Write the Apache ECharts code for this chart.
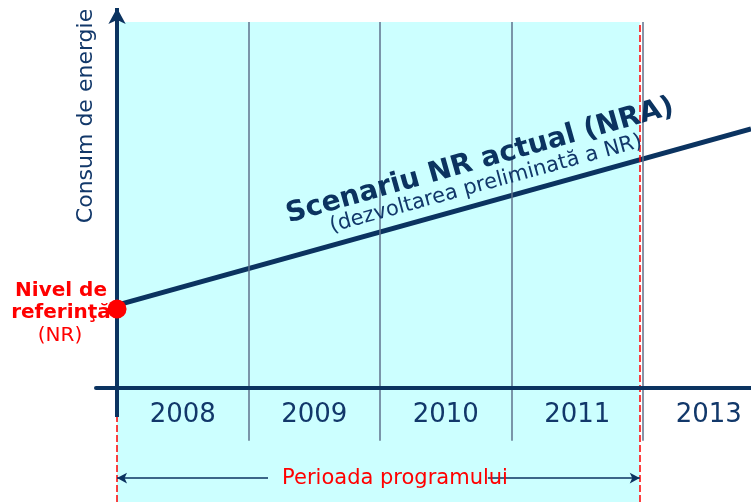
<!DOCTYPE html>
<html><head><meta charset="utf-8">
<script src="https://cdn.jsdelivr.net/npm/echarts@6/dist/echarts.min.js"></script>
<style>html,body{margin:0;padding:0;background:#fff}#c{width:751px;height:502px}</style>
</head><body><div id="c"></div>
<script>
// ---- data ----
const years = ['2008', '2009', '2010', '2011', '2013'];
const yearPos = [0.5, 1.5, 2.5, 3.5, 4.5];
const yearBoundaries = [1, 2, 3, 4];
const nraX = [0, 4.821];
const nraY = [2.18, 6.82];
const nrLevel = [0, 2.08];
const programStart = 0;
const programEnd = 3.975;
const yAxisName = 'Consum de energie';
const periodLabel = 'Perioada programului';

// ---- styling ----
const NAVY = '#0b3360';
const TEXT = '#12386a';
const GRIDC = '#5f728c';
const RED = '#ff0000';
const FONT = 'DejaVu Sans, Verdana, sans-serif';
const X_MIN = -0.16, X_MAX = 4.821, Y_MIN = -3, Y_MAX = 10;
const TOP = 9.63, GRID_BOTTOM = -1.39, YAXIS_BOTTOM = -0.76, YEAR_Y = -0.72, PERIOD_Y = -2.37;

const chart = echarts.init(document.getElementById('c'), null, {renderer: 'canvas'});

const gridLines = yearBoundaries.map(x => [
  {coord: [x, GRID_BOTTOM], lineStyle: {color: GRIDC, width: 1.5, type: 'solid'}},
  {coord: [x, TOP]}
]);

const option = {
  animation: false,
  grid: {left: 96, right: 0, top: 8, bottom: 0},
  xAxis: {
    type: 'value', min: X_MIN, max: X_MAX, z: 10,
    axisLine: {show: true, onZero: true, lineStyle: {color: NAVY, width: 4}},
    axisTick: {show: false}, axisLabel: {show: false}, splitLine: {show: false}
  },
  yAxis: {
    type: 'value', min: Y_MIN, max: Y_MAX,
    axisLine: {show: false}, axisTick: {show: false}, axisLabel: {show: false}, splitLine: {show: false}
  },
  series: [
    {
      type: 'line', data: [], z: 1, silent: true,
      markArea: {
        silent: true,
        itemStyle: {color: '#ccffff', opacity: 1},
        data: [[{coord: [programStart, Y_MIN]}, {coord: [programEnd, TOP]}]]
      }
    },
    {
      type: 'line', data: [], z: 2, silent: true,
      markLine: {
        silent: true, symbol: ['none', 'none'], label: {show: false},
        emphasis: {disabled: true},
        data: gridLines.concat([
          [{coord: [programEnd, Y_MIN], lineStyle: {color: RED, width: 1.5, type: [7, 3]}}, {coord: [programEnd, TOP]}],
          [{coord: [programStart, Y_MIN], lineStyle: {color: RED, width: 1.5, type: [7, 3]}}, {coord: [programStart, YAXIS_BOTTOM]}],
          [{coord: [programStart, PERIOD_Y], lineStyle: {color: NAVY, width: 1.5, type: 'solid'}, symbol: 'arrow', symbolSize: [8, 10]},
           {coord: [1.148, PERIOD_Y], symbol: 'none'}],
          [{coord: [2.82, PERIOD_Y], lineStyle: {color: NAVY, width: 1.5, type: 'solid'}, symbol: 'none'},
           {coord: [programEnd, PERIOD_Y], symbol: 'arrow', symbolSize: [8, 10]}]
        ])
      }
    },
    {
      type: 'line', data: [], z: 11, silent: true,
      markLine: {
        silent: true, symbol: ['none', 'none'], label: {show: false},
        emphasis: {disabled: true},
        data: [
          [{coord: [programStart, YAXIS_BOTTOM], lineStyle: {color: NAVY, width: 4, type: 'solid'}, symbol: 'none'},
           {coord: [programStart, Y_MAX], symbol: 'arrow', symbolSize: [13, 16]}]
        ]
      }
    },
    {
      type: 'line', name: 'NRA', z: 3, symbol: 'none', silent: true,
      data: nraX.map((x, i) => [x, nraY[i]]),
      lineStyle: {color: NAVY, width: 5}
    },
    {
      type: 'scatter', z: 12, silent: true,
      data: [nrLevel], symbolSize: 19, itemStyle: {color: RED, opacity: 1}
    },
    {
      type: 'scatter', z: 12, silent: true,
      data: yearPos.map((x, i) => [x, YEAR_Y, years[i]]),
      symbolSize: 1, itemStyle: {color: 'rgba(0,0,0,0)', opacity: 1},
      label: {show: true, position: 'inside', formatter: p => p.data[2],
        fontSize: 26, color: TEXT, opacity: 1, fontFamily: FONT}
    },
    {
      type: 'scatter', z: 12, silent: true,
      data: [[2.114, PERIOD_Y, periodLabel]],
      symbolSize: 1, itemStyle: {color: 'rgba(0,0,0,0)', opacity: 1},
      label: {show: true, position: 'inside', formatter: p => p.data[2],
        fontSize: 21, color: RED, opacity: 1, fontFamily: FONT}
    }
  ],
  graphic: [
    {type: 'text', x: 86, y: 116, rotation: Math.PI / 2, z: 10,
      style: {text: yAxisName, fontSize: 22, fontFamily: FONT, fill: TEXT, align: 'center', verticalAlign: 'middle'}},
    {type: 'text', x: 61, y: 291, z: 10,
      style: {text: 'Nivel de', fontSize: 20, fontWeight: 'bold', fontFamily: FONT, fill: RED, align: 'center', verticalAlign: 'middle'}},
    {type: 'text', x: 61, y: 313, z: 10,
      style: {text: 'referinţă', fontSize: 20, fontWeight: 'bold', fontFamily: FONT, fill: RED, align: 'center', verticalAlign: 'middle'}},
    {type: 'text', x: 60, y: 336, z: 10,
      style: {text: '(NR)', fontSize: 20, fontFamily: FONT, fill: RED, align: 'center', verticalAlign: 'middle'}},
    {type: 'text', x: 480, y: 161, rotation: 0.275, z: 10,
      style: {text: 'Scenariu NR actual (NRA)', fontSize: 28, fontWeight: 'bold', fontFamily: FONT, fill: NAVY, align: 'center', verticalAlign: 'middle'}},
    {type: 'text', x: 486, y: 184, rotation: 0.268, z: 10,
      style: {text: '(dezvoltarea preliminată a NR)', fontSize: 21, fontFamily: FONT, fill: TEXT, align: 'center', verticalAlign: 'middle'}}
  ]
};
chart.setOption(option);
</script></body></html>
